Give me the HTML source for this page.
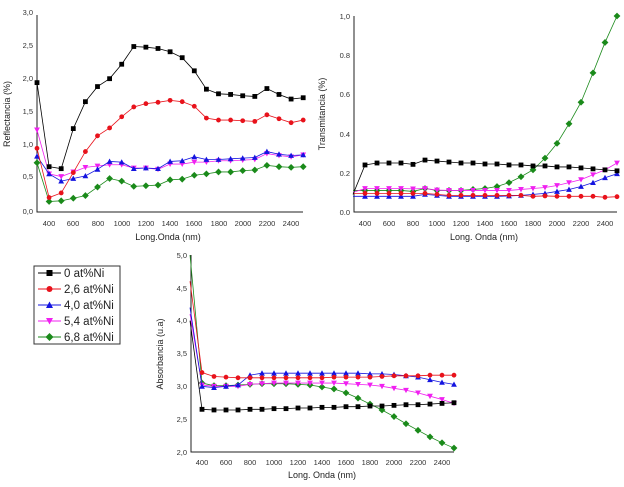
<!DOCTYPE html>
<html><head><meta charset="utf-8"><style>
html,body{margin:0;padding:0;background:#fff;}
svg{display:block;font-family:"Liberation Sans",sans-serif;}
.t{font-size:7.5px;fill:#333;}
.at{font-size:9px;fill:#222;}
.lg{font-size:11.5px;fill:#222;}
</style></head><body>
<svg id="s" width="624" height="487" viewBox="0 0 624 487" xmlns="http://www.w3.org/2000/svg">
<g stroke="#222" stroke-width="1" fill="none">
<path d="M37,15V212H303"/>
<path d="M354,16V212H617"/>
<path d="M191,255V452H454"/>
</g>
<g class="t" text-anchor="end">
<text x="33" y="15">3,0</text><text x="33" y="48">2,5</text><text x="33" y="81">2,0</text><text x="33" y="114">1,5</text><text x="33" y="147">1,0</text><text x="33" y="179">0,5</text><text x="33" y="214">0,0</text>
<text x="350" y="19">1,0</text><text x="350" y="58">0.8</text><text x="350" y="97">0.6</text><text x="350" y="137">0.4</text><text x="350" y="176">0.2</text><text x="350" y="215">0.0</text>
<text x="187" y="258">5,0</text><text x="187" y="291">4,5</text><text x="187" y="323">4,0</text><text x="187" y="356">3,5</text><text x="187" y="389">3,0</text><text x="187" y="422">2,5</text><text x="187" y="455">2,0</text>
</g>
<g class="t" text-anchor="middle">
<text x="49" y="226">400</text><text x="73" y="226">600</text><text x="98" y="226">800</text><text x="122" y="226">1000</text><text x="146" y="226">1200</text><text x="170" y="226">1400</text><text x="194" y="226">1600</text><text x="219" y="226">1800</text><text x="243" y="226">2000</text><text x="267" y="226">2200</text><text x="291" y="226">2400</text>
<text x="365" y="226">400</text><text x="389" y="226">600</text><text x="413" y="226">800</text><text x="437" y="226">1000</text><text x="461" y="226">1200</text><text x="485" y="226">1400</text><text x="509" y="226">1600</text><text x="533" y="226">1800</text><text x="557" y="226">2000</text><text x="581" y="226">2200</text><text x="605" y="226">2400</text>
<text x="202" y="465">400</text><text x="226" y="465">600</text><text x="250" y="465">800</text><text x="274" y="465">1000</text><text x="298" y="465">1200</text><text x="322" y="465">1400</text><text x="346" y="465">1600</text><text x="370" y="465">1800</text><text x="394" y="465">2000</text><text x="418" y="465">2200</text><text x="442" y="465">2400</text>
</g>
<g class="at" text-anchor="middle">
<text x="168" y="240">Long.Onda (nm)</text>
<text x="484" y="240">Long. Onda (nm)</text>
<text x="322" y="478">Long. Onda (nm)</text>
<text transform="translate(10,114) rotate(-90)">Reflectancia (%)</text>
<text transform="translate(325,114) rotate(-90)">Transmitancia (%)</text>
<text transform="translate(163,354) rotate(-90)">Absorbancia (u.a)</text>
</g>
<rect x="34" y="266" width="86" height="78" fill="#fff" stroke="#333" stroke-width="1"/>
<g class="lg">
<text x="64" y="277">0 at%Ni</text>
<text x="64" y="293">2,6 at%Ni</text>
<text x="64" y="309">4,0 at%Ni</text>
<text x="64" y="325">5,4 at%Ni</text>
<text x="64" y="341">6,8 at%Ni</text>
</g>
<g id="d"></g>
</svg>
<script>
var C=['#000','#e8121b','#1414e0','#f020f0','#1a8a1a'];
var xs=[];for(var w=300;w<=2500;w+=100)xs.push(w);
var c1=[[1.97,.69,.66,1.27,1.68,1.91,2.03,2.25,2.52,2.51,2.49,2.44,2.35,2.15,1.87,1.80,1.79,1.77,1.76,1.88,1.79,1.72,1.74],
[.97,.22,.29,.60,.92,1.16,1.28,1.45,1.60,1.65,1.67,1.70,1.68,1.61,1.43,1.40,1.40,1.39,1.38,1.48,1.42,1.36,1.40],
[.85,.58,.47,.51,.55,.65,.77,.76,.66,.67,.66,.77,.78,.84,.80,.80,.81,.82,.83,.92,.88,.86,.87],
[1.25,.58,.54,.61,.68,.70,.72,.72,.67,.67,.65,.73,.73,.76,.76,.78,.78,.79,.80,.89,.86,.84,.87],
[.75,.16,.17,.21,.25,.38,.51,.47,.39,.40,.41,.49,.50,.56,.58,.61,.61,.63,.64,.71,.69,.68,.69]];
var c2=[[.09,.24,.25,.25,.25,.243,.265,.26,.255,.25,.25,.245,.245,.24,.24,.235,.235,.23,.23,.225,.22,.215,.21],
[.095,.095,.095,.095,.095,.095,.095,.09,.085,.085,.085,.085,.085,.085,.085,.08,.082,.08,.08,.08,.08,.075,.078],
[.08,.08,.08,.08,.08,.08,.09,.085,.08,.08,.08,.08,.08,.082,.085,.09,.095,.105,.115,.13,.15,.175,.195],
[.1,.12,.12,.12,.12,.118,.12,.112,.11,.11,.11,.11,.11,.11,.115,.12,.125,.135,.15,.165,.19,.215,.25],
[.11,.11,.11,.11,.11,.105,.12,.11,.11,.11,.115,.12,.13,.15,.18,.215,.275,.35,.45,.56,.71,.865,1.0]];
var c3=[[4.0,2.65,2.64,2.64,2.64,2.65,2.65,2.66,2.66,2.67,2.67,2.68,2.68,2.69,2.69,2.7,2.7,2.71,2.72,2.72,2.73,2.74,2.75],
[4.6,3.21,3.15,3.14,3.13,3.13,3.13,3.13,3.13,3.13,3.13,3.13,3.14,3.14,3.14,3.14,3.15,3.16,3.16,3.16,3.17,3.17,3.17],
[4.2,3.0,2.98,3.0,3.02,3.17,3.2,3.2,3.2,3.2,3.2,3.2,3.2,3.2,3.2,3.19,3.19,3.18,3.16,3.14,3.1,3.06,3.03],
[4.1,3.02,3.0,3.0,3.0,3.03,3.04,3.05,3.05,3.05,3.05,3.05,3.05,3.04,3.03,3.02,3.0,2.97,2.94,2.9,2.85,2.8,2.74],
[5.0,3.05,3.01,3.01,3.02,3.03,3.04,3.04,3.04,3.03,3.02,2.99,2.96,2.9,2.82,2.73,2.64,2.54,2.43,2.33,2.23,2.14,2.06]];
var g=document.getElementById('d'),NS='http://www.w3.org/2000/svg';
function mk(i,x,y,s){var e;
 if(i==0){e=document.createElementNS(NS,'rect');e.setAttribute('x',x-s);e.setAttribute('y',y-s);e.setAttribute('width',2*s);e.setAttribute('height',2*s);}
 else if(i==1){e=document.createElementNS(NS,'circle');e.setAttribute('cx',x);e.setAttribute('cy',y);e.setAttribute('r',s);}
 else{e=document.createElementNS(NS,'polygon');var p;
  if(i==2)p=[[x,y-s-.5],[x+s+.5,y+s],[x-s-.5,y+s]];else if(i==3)p=[[x-s-.5,y-s],[x+s+.5,y-s],[x,y+s+.5]];else p=[[x,y-s-1],[x+s+1,y],[x,y+s+1],[x-s-1,y]];
  e.setAttribute('points',p.map(function(q){return q.join(',')}).join(' '));}
 e.setAttribute('fill',C[i]);g.appendChild(e);}
function draw(data,fx,fy,skip){for(var i=data.length-1;i>=0;i--){var pts=[];
 for(var k=0;k<xs.length;k++)pts.push([fx(xs[k]),fy(data[i][k])]);
 var pl=document.createElementNS(NS,'polyline');pl.setAttribute('points',pts.map(function(q){return q.join(',')}).join(' '));
 pl.setAttribute('fill','none');pl.setAttribute('stroke',C[i]);pl.setAttribute('stroke-width','0.8');g.appendChild(pl);
 for(var k=skip;k<pts.length;k++)mk(i,pts[k][0],pts[k][1],2.4);}}
draw(c1,function(w){return 37+(w-300)*0.121},function(v){return 212-v*65.67},0);
draw(c2,function(w){return 353+(w-300)*0.12},function(v){return 212-v*196},1);
draw(c3,function(w){return 190+(w-300)*0.12},function(v){return 452-(v-2)*65.67},1);
for(var i=0;i<5;i++){var y=273+16*i;var l=document.createElementNS(NS,'line');l.setAttribute('x1',38);l.setAttribute('x2',61);l.setAttribute('y1',y);l.setAttribute('y2',y);l.setAttribute('stroke',C[i]);g.appendChild(l);mk(i,49.5,y,3);}
</script>
</body></html>
